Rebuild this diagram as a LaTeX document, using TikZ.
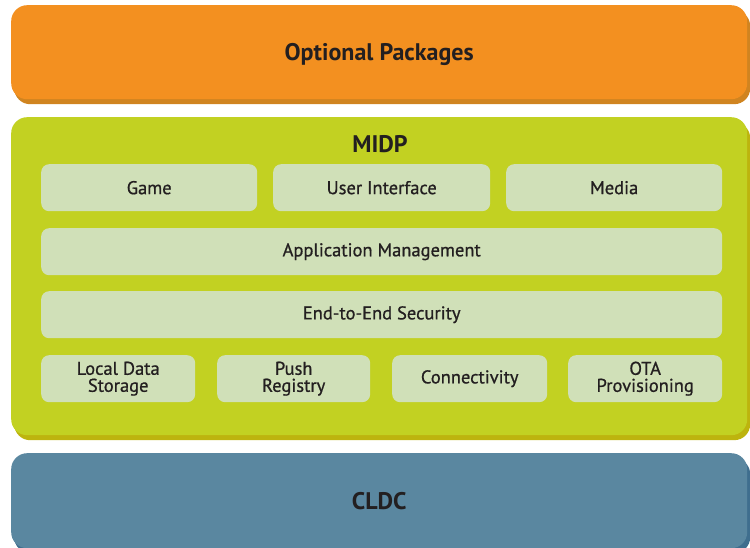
\documentclass[tikz,border=0pt]{standalone}
\usepackage{fontspec}
\setmainfont{PT Sans}
\newfontfamily\blockfont[FakeBold=0.8]{PT Sans}
\usetikzlibrary{shadows}
\definecolor{pkgorange}{HTML}{F39020}
\definecolor{pkgshadow}{HTML}{D08420}
\definecolor{midpgreen}{HTML}{C2D122}
\definecolor{midpshadow}{HTML}{BDB40E}
\definecolor{blockgreen}{HTML}{D0E0B8}
\definecolor{cldcblue}{HTML}{5A87A0}
\definecolor{cldcshadow}{HTML}{3F6E8E}
\definecolor{textgray}{HTML}{231F20}

\begin{document}
\begin{tikzpicture}[x=1pt,y=-1pt,
        layer/.style={rounded corners=16pt, inner sep=0pt, anchor=north west, text depth=0pt,
            minimum width=736pt, font=\fontsize{24}{26}\selectfont\bfseries, text=textgray},
        block/.style={fill=blockgreen, rounded corners=8pt, inner sep=0pt, anchor=north west,
            minimum height=47pt, align=center, font=\blockfont\fontsize{18.5}{17}\selectfont, text=textgray}]
        \useasboundingbox (0,0) rectangle (750,548);
        % Layers
        \node[layer, fill=pkgorange, minimum height=94pt,
            drop shadow={shadow xshift=3pt, shadow yshift=-5pt, fill=pkgshadow, opacity=1}]
            (optional) at (11,5) {Optional Packages};
        \node[layer, fill=midpgreen, minimum height=318pt,
            drop shadow={shadow xshift=3pt, shadow yshift=-5pt, fill=midpshadow, opacity=1}]
            (midp) at (11,117) {};
        \node[layer, fill=cldcblue, minimum height=95pt,
            drop shadow={shadow xshift=3pt, shadow yshift=-5pt, fill=cldcshadow, opacity=1}]
            (cldc) at (11,453) {CLDC};
        \node[font=\fontsize{24}{26}\selectfont\bfseries, text=textgray] (midptitle) at (380,144) {MIDP};
        % Top row
        \node[block, minimum width=216pt] (game) at (41,164) {Game};
        \node[block, minimum width=217pt] (ui) at (273,164) {User Interface};
        \node[block, minimum width=216pt] (media) at (506,164) {Media};
        % Full width rows
        \node[block, minimum width=681pt] (appmgmt) at (41,228) {Application Management};
        \node[block, minimum width=681pt] (security) at (41,291) {End-to-End Security};
        % Bottom row
        \foreach \name/\x/\w/\txt in {storage/41/154/{Local Data\\Storage},
                push/217/153/{Push\\Registry},
                conn/392/155/{Connectivity},
                ota/568/154/{OTA\\Provisioning}}
            \node[block, minimum width=\w pt] (\name) at (\x,355) {\txt};
    \end{tikzpicture}
\end{document}
